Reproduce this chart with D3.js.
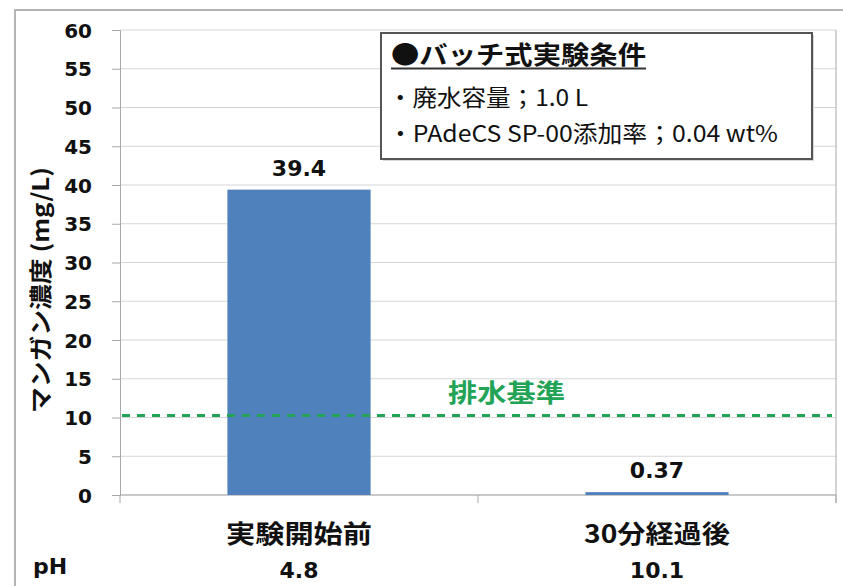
<!DOCTYPE html>
<html lang="ja">
<head>
<meta charset="UTF-8">
<title>マンガン濃度</title>
<script src="https://d3js.org/d3.v7.min.js"></script>
<style>
    body { margin: 0; padding: 0; background: #fff; }
    svg { display: block; }
    .num { font-family: "DejaVu Sans", sans-serif; font-weight: bold; fill: #111; }
    .jp { font-family: "Noto Sans CJK JP", sans-serif; fill: #111; }
</style>
</head>
<body>
<svg id="chart" width="843" height="586"></svg>
<script>
// data
var categories = ["実験開始前", "30分経過後"];
var values = [39.4, 0.37];
var valueLabels = ["39.4", "0.37"];
var phValues = ["4.8", "10.1"];
var yTicks = [0, 5, 10, 15, 20, 25, 30, 35, 40, 45, 50, 55, 60];
var standardValue = 10;
var standardLabel = "排水基準";
var yLabel = "マンガン濃度 (mg/L)";
var legendTitle = "●バッチ式実験条件";
var legendLines = ["・廃水容量；1.0 L", "・PAdeCS SP-00添加率；0.04 wt%"];

var svg = d3.select("#chart");
// plot area edges (window.top is reserved, so use other names)
var plotL = 120, plotR = 836, plotT = 30, plotB = 495;

// outer frame
svg.append("path")
    .attr("d", "M15,586 L15,10 L843,10")
    .attr("fill", "none")
    .attr("stroke", "#b4b4b4")
    .attr("stroke-width", 2);

var x = d3.scaleBand()
    .domain(categories)
    .range([plotL, plotR])
    .paddingInner(0.6)
    .paddingOuter(0.3);

var y = d3.scaleLinear()
    .domain([0, 60])
    .range([plotB, plotT]);

// gridlines
svg.append("g")
    .selectAll("line")
    .data(yTicks)
    .enter().append("line")
    .attr("x1", plotL).attr("x2", plotR)
    .attr("y1", function(d) { return y(d); })
    .attr("y2", function(d) { return y(d); })
    .attr("stroke", "#d6d6d6")
    .attr("stroke-width", 1);

// y axis
var yAxis = svg.append("g")
    .attr("transform", "translate(" + plotL + ",0)")
    .call(d3.axisLeft(y).tickValues(yTicks).tickSize(8).tickPadding(20));
yAxis.select(".domain").attr("stroke", "#a8a8a8");
yAxis.selectAll(".tick line").attr("stroke", "#a8a8a8");
yAxis.selectAll(".tick text")
    .attr("class", "num")
    .style("font-size", "20px")
    .attr("dy", "0.36em");

// right border of plot area
svg.append("line")
    .attr("x1", plotR).attr("x2", plotR)
    .attr("y1", plotT).attr("y2", plotB + 8)
    .attr("stroke", "#a8a8a8");

// x baseline and category separators
svg.append("line")
    .attr("x1", plotL).attr("x2", plotR)
    .attr("y1", plotB).attr("y2", plotB)
    .attr("stroke", "#a8a8a8");
var sepX = [plotL, (plotL + plotR) / 2, plotR];
svg.append("g").selectAll("line")
    .data(sepX)
    .enter().append("line")
    .attr("x1", function(d) { return d; })
    .attr("x2", function(d) { return d; })
    .attr("y1", plotB).attr("y2", plotB + 8)
    .attr("stroke", "#a8a8a8");

// bars
svg.append("g").selectAll("rect")
    .data(values)
    .enter().append("rect")
    .attr("x", function(d, i) { return x(categories[i]); })
    .attr("width", x.bandwidth())
    .attr("y", function(d) { return y(d); })
    .attr("height", function(d) { return Math.max(y(0) - y(d), 2); })
    .attr("fill", "#4f81bd");

// value labels
svg.append("g").selectAll("text")
    .data(valueLabels)
    .enter().append("text")
    .attr("class", "num")
    .attr("x", function(d, i) { return x(categories[i]) + x.bandwidth() / 2; })
    .attr("y", function(d, i) { return y(values[i]) - 14; })
    .attr("text-anchor", "middle")
    .style("font-size", "22px")
    .text(function(d) { return d; });

// discharge standard line
svg.append("line")
    .attr("x1", plotL + 2).attr("x2", plotR - 4)
    .attr("y1", y(standardValue) - 2).attr("y2", y(standardValue) - 2)
    .attr("stroke", "#22a356")
    .attr("stroke-width", 3)
    .attr("stroke-dasharray", "8,7");
svg.append("text")
    .attr("class", "jp")
    .attr("x", 448)
    .attr("y", 402)
    .attr("textLength", 117)
    .attr("lengthAdjust", "spacingAndGlyphs")
    .style("font-size", "25px")
    .style("font-weight", "bold")
    .style("fill", "#22a356")
    .text(standardLabel);

// category labels
svg.append("g").selectAll("text")
    .data(categories)
    .enter().append("text")
    .attr("class", "jp")
    .attr("x", function(d) { return x(d) + x.bandwidth() / 2; })
    .attr("y", 543)
    .attr("text-anchor", "middle")
    .attr("textLength", 146)
    .attr("lengthAdjust", "spacingAndGlyphs")
    .style("font-size", "25px")
    .style("font-weight", "bold")
    .text(function(d) { return d; });

// pH row
svg.append("text")
    .attr("class", "num")
    .attr("x", 33)
    .attr("y", 574)
    .style("font-size", "22px")
    .text("pH");
svg.append("g").selectAll("text")
    .data(phValues)
    .enter().append("text")
    .attr("class", "num")
    .attr("x", function(d, i) { return x(categories[i]) + x.bandwidth() / 2; })
    .attr("y", 578)
    .attr("text-anchor", "middle")
    .style("font-size", "22px")
    .text(function(d) { return d; });

// y axis title
svg.append("text")
    .attr("class", "jp")
    .attr("transform", "translate(49,290) rotate(-90)")
    .attr("text-anchor", "middle")
    .attr("textLength", 246)
    .attr("lengthAdjust", "spacingAndGlyphs")
    .style("font-size", "23px")
    .style("font-weight", "bold")
    .text(yLabel);

// condition box
var box = svg.append("g");
box.append("rect")
    .attr("x", 383).attr("y", 35)
    .attr("width", 431).attr("height", 126)
    .attr("fill", "#d8d8d8");
box.append("rect")
    .attr("x", 381).attr("y", 33)
    .attr("width", 431).attr("height", 126)
    .attr("fill", "#fff")
    .attr("stroke", "#555")
    .attr("stroke-width", 2);
box.append("text")
    .attr("class", "jp")
    .attr("x", 391).attr("y", 64)
    .attr("textLength", 255)
    .attr("lengthAdjust", "spacingAndGlyphs")
    .style("font-size", "25px")
    .style("font-weight", "bold")
    .text(legendTitle);
box.append("line")
    .attr("x1", 391).attr("x2", 646)
    .attr("y1", 68.5).attr("y2", 68.5)
    .attr("stroke", "#333")
    .attr("stroke-width", 2);
var lineLen = [200, 390];
var lineY = [106, 142];
box.selectAll("text.line")
    .data(legendLines)
    .enter().append("text")
    .attr("class", "jp line")
    .attr("x", 388)
    .attr("y", function(d, i) { return lineY[i]; })
    .attr("textLength", function(d, i) { return lineLen[i]; })
    .attr("lengthAdjust", "spacingAndGlyphs")
    .style("font-size", "23px")
    .text(function(d) { return d; });
</script>
</body>
</html>
